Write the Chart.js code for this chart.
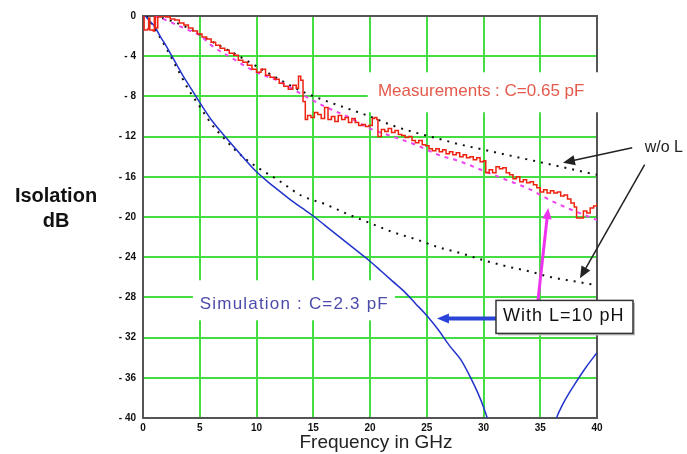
<!DOCTYPE html>
<html>
<head>
<meta charset="utf-8">
<script src="https://cdn.jsdelivr.net/npm/chart.js@4/dist/chart.umd.min.js"></script>
<style>
body { margin: 0; background: #fff; }
</style>
</head>
<body>
<canvas id="isolationChart" width="687" height="454"></canvas>
<script>
const freqTicks = [0, 5, 10, 15, 20, 25, 30, 35, 40];
const dbTicks = [0, -4, -8, -12, -16, -20, -24, -28, -32, -36, -40];

// measured isolation (red, noisy)
const measFreq = [0, 0.1, 0.4, 0.5, 0.6, 0.9, 1.0, 1.1, 1.3, 1.6, 2.0, 2.4, 2.8, 3.2, 3.6, 4.0, 4.4, 4.8,
    5.2, 5.6, 6.0, 6.4, 6.8, 7.2, 7.6, 8.0, 8.4, 8.8, 9.2, 9.6, 10.0, 10.4, 10.8, 11.2, 11.6, 12.0,
    12.4, 12.8, 13.2, 13.5, 13.7, 13.9, 14.1, 14.3, 14.5, 14.8, 15.1, 15.4, 15.7, 16.0, 16.3, 16.6,
    16.9, 17.2, 17.5, 17.8, 18.1, 18.4, 18.7, 19.0, 19.3, 19.6, 19.9, 20.2, 20.4, 20.6, 20.7, 21.0,
    21.3, 21.6, 21.9, 22.2, 22.5, 22.8, 23.1, 23.4, 23.7, 24.0, 24.3, 24.6, 24.9, 25.2, 25.5, 25.8,
    26.1, 26.4, 26.7, 27.0, 27.3, 27.6, 27.9, 28.2, 28.5, 28.8, 29.1, 29.4, 29.7, 30.0, 30.2, 30.5,
    30.8, 31.1, 31.4, 31.7, 32.0, 32.3, 32.6, 32.9, 33.2, 33.5, 33.8, 34.1, 34.4, 34.7, 35.0, 35.3,
    35.6, 35.9, 36.2, 36.5, 36.8, 37.1, 37.4, 37.7, 38.0, 38.2, 38.6, 38.8, 39.1, 39.4, 39.7, 40.0];
const measDb = [0, -1.4, -1.3, -0.2, -1.4, -1.5, 0, -1.2, -0.1, 0, -0.1, -0.3, -0.4, -0.7, -0.9, -1.2, -1.5, -1.8,
    -2.1, -2.3, -2.6, -2.9, -3.2, -3.4, -3.7, -3.9, -4.4, -4.6, -4.9, -5.3, -5.6, -5.3, -5.9, -6.1, -6.3, -6.7,
    -7.0, -7.3, -6.9, -7.2, -6.0, -6.4, -8.5, -10.3, -9.9, -10.1, -9.6, -9.8, -10.2, -9.1, -10.3, -10.0,
    -10.5, -9.9, -10.3, -10.1, -10.6, -10.2, -10.6, -10.9, -10.8, -11.0, -10.9, -10.2, -10.1, -10.3, -12.0, -11.3,
    -11.5, -11.2, -11.6, -11.4, -11.8, -11.9, -12.1, -12.0, -12.4, -12.6, -12.4, -12.8, -12.9, -13.2, -13.4, -13.2,
    -13.5, -13.3, -13.7, -13.5, -13.8, -13.6, -14.0, -13.8, -14.1, -14.0, -14.3, -14.1, -14.5, -14.4, -15.6, -15.3,
    -15.6, -15.0, -15.2, -15.1, -15.6, -15.8, -16.2, -16.0, -16.5, -16.3, -16.6, -16.5, -16.8, -17.1, -17.5, -17.3,
    -17.6, -17.4, -17.6, -17.5, -17.9, -17.8, -18.2, -18.6, -19.0, -20.1, -20.1, -19.4, -19.6, -19.1, -18.9, -18.6];

// fit with L = 10 pH (magenta dashed)
const fitLFreq = [1, 2, 3, 4, 5, 6, 8, 10, 12, 14, 16, 18, 20, 22, 24, 26, 28, 30, 32, 34, 36, 38, 40];
const fitLDb = [0, -0.4, -0.9, -1.4, -1.9, -2.9, -4.3, -5.6, -6.5, -7.8, -9.0, -10.0, -11.2, -12.0, -12.8,
    -13.8, -14.5, -15.4, -16.3, -17.2, -18.4, -19.4, -20.3];

// measurement fit without L (upper dotted)
const fitFreq = [1, 2, 4, 6, 8, 10, 12, 14, 16, 18, 20, 22, 24, 26, 28, 30, 32, 34, 36, 38, 40];
const fitDb = [0, -0.3, -1.2, -2.5, -3.7, -5.0, -6.3, -7.5, -8.4, -9.2, -10.0, -10.9, -11.6, -12.2, -12.8,
    -13.3, -13.8, -14.3, -14.8, -15.3, -15.8];

// simulation with L (blue), dips below -40 dB around 33 GHz
const simFreq = [0.2, 0.5, 1, 1.5, 2, 2.5, 3, 3.5, 4, 5, 6, 7, 8, 9, 10, 11, 12, 13, 14, 15, 16, 17, 18, 19,
    20, 21, 22, 23, 24, 25, 26, 27, 28, 29, 29.5, 30, 30.5, 31, 33, 35, 36, 36.5, 37, 37.5, 38, 39, 40];
const simDb = [0, -0.4, -1.0, -2.0, -2.9, -3.9, -4.9, -5.9, -6.8, -8.6, -10.3, -11.7, -13.0, -14.3, -15.5,
    -16.5, -17.4, -18.3, -19.1, -19.9, -20.8, -21.7, -22.6, -23.5, -24.4, -25.4, -26.4, -27.4, -28.6, -29.8,
    -31.2, -32.8, -34.2, -36.3, -37.5, -38.9, -40.6, -42.5, -50, -46, -41.5, -39.8, -38.6, -37.6, -36.7, -35.0, -33.5];

// simulation without L (lower dotted)
const simNoLFreq = [0.3, 1, 2, 3, 4, 5, 6, 7, 8, 9, 10, 12, 14, 16, 18, 20, 22, 24, 26, 28, 30, 32, 34, 36, 38, 40];
const simNoLDb = [0, -1.2, -3.1, -5.2, -7.3, -9.0, -10.7, -12.0, -13.2, -14.2, -15.0, -16.4, -17.9, -18.7,
    -19.7, -20.6, -21.5, -22.2, -23.0, -23.6, -24.3, -24.9, -25.4, -26.0, -26.4, -26.8];

const pts = (xs, ys) => xs.map((v, i) => ({x: v, y: ys[i]}));

function arrow(ctx, x0, y0, x1, y1, color, width, head) {
    const ang = Math.atan2(y1 - y0, x1 - x0);
    ctx.strokeStyle = color;
    ctx.fillStyle = color;
    ctx.lineWidth = width;
    ctx.beginPath();
    ctx.moveTo(x0, y0);
    ctx.lineTo(x1 - Math.cos(ang) * head * 0.8, y1 - Math.sin(ang) * head * 0.8);
    ctx.stroke();
    ctx.beginPath();
    ctx.moveTo(x1, y1);
    ctx.lineTo(x1 - head * Math.cos(ang - 0.4), y1 - head * Math.sin(ang - 0.4));
    ctx.lineTo(x1 - head * Math.cos(ang + 0.4), y1 - head * Math.sin(ang + 0.4));
    ctx.closePath();
    ctx.fill();
}

const annotations = {
    id: 'annotations',
    beforeDatasetsDraw(chart) {
        const {ctx, chartArea: a, scales: {x, y}} = chart;
        ctx.save();
        ctx.strokeStyle = '#555';
        ctx.lineWidth = 2;
        ctx.strokeRect(a.left, a.top, a.right - a.left, a.bottom - a.top);

        // label boxes hide the grid
        ctx.fillStyle = '#fff';
        ctx.fillRect(x.getPixelForValue(19.8), y.getPixelForValue(-5.6), 235, 40);
        ctx.fillRect(x.getPixelForValue(4.4), y.getPixelForValue(-26.3), 202, 40);

        ctx.textBaseline = 'middle';
        ctx.textAlign = 'left';
        ctx.font = '17px "Liberation Sans", Arial';
        ctx.fillStyle = '#e45a4c';
        ctx.fillText('Measurements : C=0.65 pF', x.getPixelForValue(20.7), y.getPixelForValue(-7.5));
        ctx.letterSpacing = '1.2px';
        ctx.fillStyle = '#4b4bab';
        ctx.fillText('Simulation : C=2.3 pF', x.getPixelForValue(5.0), y.getPixelForValue(-28.7));
        ctx.restore();
    },
    afterDatasetsDraw(chart) {
        const {ctx, scales: {x, y}} = chart;
        const px = v => x.getPixelForValue(v);
        const py = v => y.getPixelForValue(v);
        ctx.save();

        arrow(ctx, px(31.1), py(-30.1), px(25.9), py(-30.1), '#2a44d8', 4, 13);
        arrow(ctx, px(34.8), py(-28.3), px(35.7), py(-19.1), '#ee33ee', 3, 12);
        arrow(ctx, px(43.1), py(-13.1), px(37.0), py(-14.6), '#222', 1.5, 13);
        arrow(ctx, px(44.2), py(-14.8), px(38.5), py(-26.1), '#222', 1.5, 13);

        // With L box
        const bx = px(31.1), by = py(-28.3);
        ctx.fillStyle = '#bbb';
        ctx.fillRect(bx + 2, by + 2, 137, 33);
        ctx.fillStyle = '#fff';
        ctx.fillRect(bx, by, 137, 33);
        ctx.strokeStyle = '#333';
        ctx.lineWidth = 1.5;
        ctx.strokeRect(bx, by, 137, 33);
        ctx.fillStyle = '#111';
        ctx.font = '18px "Liberation Sans", Arial';
        ctx.textBaseline = 'middle';
        ctx.letterSpacing = '1px';
        ctx.fillText('With L=10 pH', bx + 7, by + 16);
        ctx.letterSpacing = '0px';

        ctx.fillStyle = '#222';
        ctx.font = '16px "Liberation Sans", Arial';
        ctx.fillText('w/o L', px(44.2), py(-13.1));

        ctx.textAlign = 'center';
        ctx.font = 'bold 20px "Liberation Sans", Arial';
        ctx.fillStyle = '#111';
        ctx.fillText('Isolation', 56, 196);
        ctx.fillText('dB', 56, 221);

        ctx.font = '19px "Liberation Sans", Arial';
        ctx.fillStyle = '#222';
        ctx.fillText('Frequency in GHz', 376, 443);
        ctx.restore();
    }
};

const isolationChart = document.getElementById('isolationChart');

new Chart(isolationChart, {
    type: 'line',
    data: {
        datasets: [{
            label: 'Measurements',
            data: pts(measFreq, measDb),
            borderColor: '#ee2211',
            borderWidth: 1.5,
            stepped: true
        }, {
            label: 'With L (meas.)',
            data: pts(fitLFreq, fitLDb),
            borderColor: '#ee44ee',
            borderWidth: 2,
            borderDash: [4, 5],
            cubicInterpolationMode: 'monotone'
        }, {
            label: 'w/o L (meas.)',
            data: pts(fitFreq, fitDb),
            borderColor: '#111',
            borderWidth: 2,
            borderDash: [2, 6],
            cubicInterpolationMode: 'monotone'
        }, {
            label: 'Simulation',
            data: pts(simFreq, simDb),
            borderColor: '#2233cc',
            borderWidth: 1.5,
            cubicInterpolationMode: 'monotone'
        }, {
            label: 'w/o L (sim.)',
            data: pts(simNoLFreq, simNoLDb),
            borderColor: '#111',
            borderWidth: 2,
            borderDash: [2, 6],
            cubicInterpolationMode: 'monotone'
        }]
    },
    options: {
        responsive: false,
        animation: false,
        parsing: false,
        elements: { point: { radius: 0 } },
        layout: { padding: { top: 16, right: 90, left: 0, bottom: 0 } },
        plugins: {
            legend: { display: false },
            tooltip: { enabled: false }
        },
        scales: {
            x: {
                type: 'linear',
                min: 0,
                max: 40,
                afterBuildTicks: s => { s.ticks = freqTicks.map(v => ({value: v})); },
                afterFit: s => { s.height = 36; },
                grid: { color: '#44dd44', lineWidth: 2, drawTicks: false },
                border: { display: false },
                ticks: {
                    padding: 4,
                    color: '#111',
                    font: { family: '"Liberation Sans", Arial', size: 10, weight: 'bold' },
                    maxRotation: 0
                }
            },
            y: {
                min: -40,
                max: 0,
                afterBuildTicks: s => { s.ticks = dbTicks.map(v => ({value: v})); },
                afterFit: s => { s.width = 143; },
                grid: { color: '#44dd44', lineWidth: 2, drawTicks: false },
                border: { display: false },
                ticks: {
                    padding: 7,
                    color: '#111',
                    font: { family: '"Liberation Sans", Arial', size: 10, weight: 'bold' },
                    callback: v => v === 0 ? '0' : '- ' + Math.abs(v)
                }
            }
        }
    },
    plugins: [annotations]
});
</script>
</body>
</html>
